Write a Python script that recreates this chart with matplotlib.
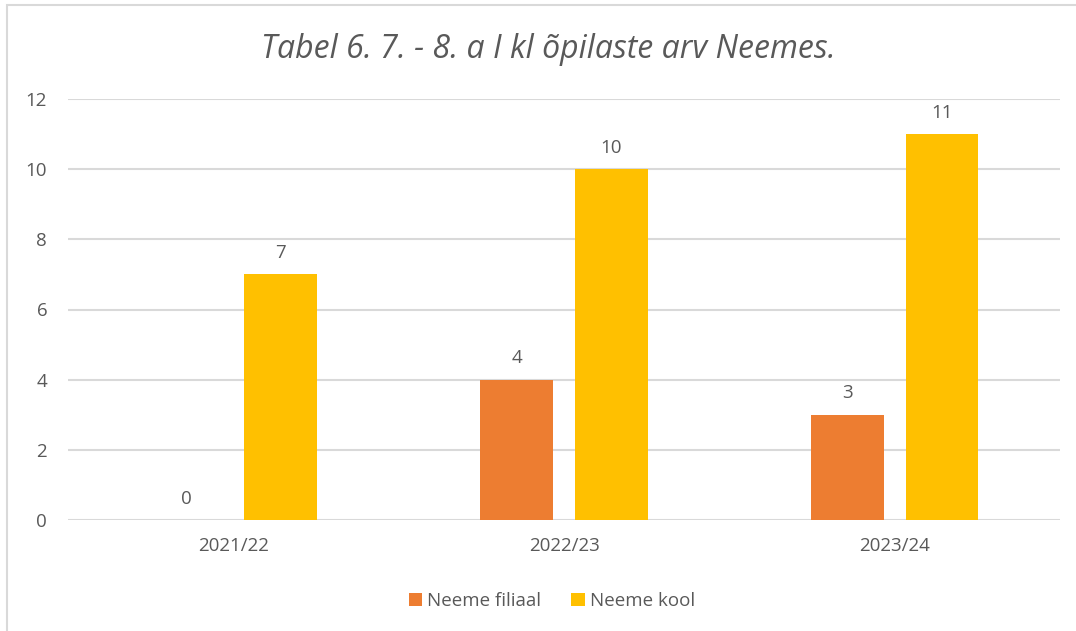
import matplotlib.pyplot as plt
from matplotlib.patches import Rectangle
import numpy as np

# andmed
years = ["2021/22", "2022/23", "2023/24"]
filiaal = [0, 4, 3]
kool = [7, 10, 11]
series_names = ["Neeme filiaal", "Neeme kool"]
title = "Tabel 6. 7. - 8. a I kl õpilaste arv Neemes."

ORANGE = "#ED7D31"
YELLOW = "#FFC000"
TXT = "#595959"
GRID = "#D9D9D9"

plt.rcParams["font.family"] = ["Open Sans", "DejaVu Sans"]

fig = plt.figure(figsize=(10.76, 6.31), dpi=100)
ax = fig.add_axes([68 / 1076, 111 / 631, 992 / 1076, 421 / 631])

x = np.arange(len(years))
w = 0.22
off = 0.143
b1 = ax.bar(x - off, filiaal, width=w, color=ORANGE, label=series_names[0], zorder=3)
b2 = ax.bar(x + off, kool, width=w, color=YELLOW, label=series_names[1], zorder=3)

for bars, vals in ((b1, filiaal), (b2, kool)):
    for r, v in zip(bars, vals):
        ax.annotate(str(v), (r.get_x() + r.get_width() / 2, v), xytext=(0, 9),
                    textcoords="offset points", ha="center", va="bottom",
                    fontsize=13.5, color=TXT)

ax.set_xlim(-0.5, len(years) - 0.5)
ax.set_ylim(0, 12)
ax.set_yticks(range(0, 13, 2))
ax.set_xticks(x)
ax.set_xticklabels(years)
ax.grid(axis="y", color=GRID, linewidth=1.5, zorder=0)
for s in ax.spines.values():
    s.set_visible(False)
ax.tick_params(length=0, labelsize=13.5, colors=TXT)
ax.tick_params(axis="y", pad=15)
ax.tick_params(axis="x", pad=12)

fig.text(548 / 1076, 1 - 50 / 631, title, ha="center", va="center",
         fontsize=23, style="italic", color=TXT)

fig.legend(loc="center", bbox_to_anchor=(552 / 1076, 1 - 601 / 631), ncol=2,
           frameon=False, fontsize=13.5, handlelength=0.7, handleheight=0.7,
           handletextpad=0.3, columnspacing=1.6, labelcolor=TXT)

# raam
fig.patches.append(Rectangle((7 / 1076, -0.01), 1.1, 1 - 5 / 631 + 0.01,
                             transform=fig.transFigure, fill=False,
                             edgecolor=GRID, linewidth=1.5))

fig.savefig("out.png", dpi=100)
